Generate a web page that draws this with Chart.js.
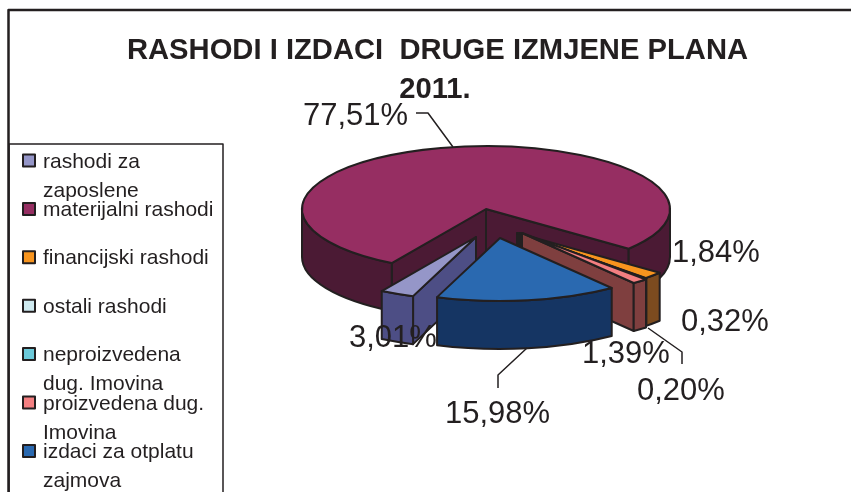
<!DOCTYPE html>
<html>
<head>
<meta charset="utf-8">
<title>Rashodi i izdaci</title>
<script src="https://cdn.jsdelivr.net/npm/chart.js@4"></script>
<style>
    html, body { margin: 0; padding: 0; background: #fff; }
    canvas { display: block; }
</style>
</head>
<body>
<canvas id="pieChart" width="851" height="492"></canvas>
<script>
// Chart data
const categories = [
    'rashodi za\nzaposlene',
    'materijalni rashodi',
    'financijski rashodi',
    'ostali rashodi',
    'neproizvedena\ndug. Imovina',
    'proizvedena dug.\nImovina',
    'izdaci za otplatu\nzajmova'
];
const shares = [3.01, 77.51, 1.84, 0.32, 0.20, 1.39, 15.98];
const titleLines = ['RASHODI I IZDACI  DRUGE IZMJENE PLANA', '2011.'];

// Colours
const INK = '#231f20';
const topColors = ['#9596c8', '#962e62', '#f7941e', '#cfeaf0', '#6bc9d9', '#f37f81', '#2a69b0'];
const wallColors = ['#4d4e85', '#4b1a34', '#7c4b1f', '#687579', '#35646c', '#7f3f3f', '#153563'];

// 3D look of the pie
const SQUASH = 0.342;
const DEPTH = 48;
const explode = [[-10, 28], [0, 0], [31, 24], [32, 24], [34, 24], [36, 24], [14, 29]];
const paintOrder = [1, 2, 3, 4, 5, 0, 6];

// Where each percentage goes: text left, baseline, optional leader line
const labelSpots = [
    { x: 349, y: 347 },
    { x: 303, y: 125, leader: [[416, 113], [428, 113], [453, 147]] },
    { x: 672, y: 262 },
    { x: 681, y: 331 },
    { x: 637, y: 400, leader: [[648, 328], [682, 352], [682, 364]] },
    { x: 582, y: 363 },
    { x: 445, y: 423, leader: [[527, 348], [498, 375], [498, 388]] }
];

function percentText(value) {
    return value.toFixed(2).replace('.', ',') + '%';
}

function drawLabel(ctx, i) {
    const spot = labelSpots[i];
    ctx.fillStyle = INK;
    ctx.font = '31px "Liberation Sans"';
    ctx.textAlign = 'left';
    ctx.textBaseline = 'alphabetic';
    ctx.fillText(percentText(shares[i]), spot.x, spot.y);
    if (spot.leader) {
        ctx.beginPath();
        spot.leader.forEach(function(p, n) {
            if (n === 0) ctx.moveTo(p[0], p[1]);
            else ctx.lineTo(p[0], p[1]);
        });
        ctx.lineWidth = 1.5;
        ctx.strokeStyle = INK;
        ctx.stroke();
    }
}

function paint(ctx, fill) {
    ctx.fillStyle = fill;
    ctx.fill();
    ctx.stroke();
}

// Flat side of a slice, from the apex out to the rim at one angle
function drawFace(ctx, x, y, r, angle, fill) {
    const ex = x + r * Math.cos(angle);
    const ey = y + r * SQUASH * Math.sin(angle);
    ctx.beginPath();
    ctx.moveTo(x, y);
    ctx.lineTo(ex, ey);
    ctx.lineTo(ex, ey + DEPTH);
    ctx.lineTo(x, y + DEPTH);
    ctx.closePath();
    paint(ctx, fill);
}

// Curved rim, only the parts that face the viewer
function drawRim(ctx, x, y, r, start, end, fill) {
    for (let k = 0; k < 2; k++) {
        const lo = Math.max(start, k * 2 * Math.PI);
        const hi = Math.min(end, k * 2 * Math.PI + Math.PI);
        if (hi <= lo) continue;
        ctx.beginPath();
        ctx.ellipse(x, y, r, r * SQUASH, 0, lo, hi);
        ctx.ellipse(x, y + DEPTH, r, r * SQUASH, 0, hi, lo, true);
        ctx.closePath();
        paint(ctx, fill);
    }
}

function drawSlice(ctx, arc, i) {
    const props = arc.getProps(['x', 'y', 'startAngle', 'endAngle', 'outerRadius'], true);
    const x = props.x + explode[i][0];
    const y = props.y + explode[i][1];
    const r = props.outerRadius;
    const start = props.startAngle;
    const end = props.endAngle;

    if (Math.cos(end) > 0) drawFace(ctx, x, y, r, end, wallColors[i]);
    if (Math.cos(start) < 0) drawFace(ctx, x, y, r, start, wallColors[i]);
    drawRim(ctx, x, y, r, start, end, wallColors[i]);

    ctx.beginPath();
    ctx.moveTo(x, y);
    ctx.ellipse(x, y, r, r * SQUASH, 0, start, end);
    ctx.closePath();
    paint(ctx, topColors[i]);
}

function drawFrame(ctx) {
    ctx.strokeStyle = INK;
    ctx.lineWidth = 2.5;
    ctx.beginPath();
    ctx.moveTo(8.5, 492);
    ctx.lineTo(8.5, 10);
    ctx.lineTo(851, 10);
    ctx.stroke();
}

function drawTitle(ctx) {
    ctx.fillStyle = INK;
    ctx.font = 'bold 29.2px "Liberation Sans"';
    ctx.textAlign = 'center';
    ctx.textBaseline = 'alphabetic';
    ctx.fillText(titleLines[0], 437.5, 59);
    ctx.fillText(titleLines[1], 435, 98);
}

function drawLegend(ctx) {
    ctx.strokeStyle = INK;
    ctx.lineWidth = 1.5;
    ctx.strokeRect(9, 144, 214, 360);

    ctx.font = '21px "Liberation Sans"';
    ctx.textAlign = 'left';
    ctx.textBaseline = 'alphabetic';
    categories.forEach(function(name, i) {
        const rowY = 160.5 + i * 48.4;
        ctx.fillStyle = topColors[i];
        ctx.lineWidth = 2;
        ctx.fillRect(23, rowY - 6, 12, 12);
        ctx.strokeRect(23, rowY - 6, 12, 12);
        ctx.fillStyle = INK;
        name.split('\n').forEach(function(line, n) {
            ctx.fillText(line, 43, rowY + 7 + n * 29);
        });
    });
}

// Draws the pie tilted, using the angles and radius the library worked out
const tiltedPie = {
    id: 'tiltedPie',
    beforeDatasetsDraw(chart) {
        const ctx = chart.ctx;
        const arcs = chart.getDatasetMeta(0).data;
        ctx.save();
        ctx.lineJoin = 'round';
        drawFrame(ctx);
        drawLegend(ctx);
        paintOrder.forEach(function(i) {
            ctx.strokeStyle = INK;
            ctx.lineWidth = 2;
            drawSlice(ctx, arcs[i], i);
            if (i === 0) drawLabel(ctx, i);
        });
        shares.forEach(function(value, i) {
            if (i !== 0) drawLabel(ctx, i);
        });
        drawTitle(ctx);
        ctx.restore();
        return false;
    }
};

new Chart(document.getElementById('pieChart').getContext('2d'), {
    type: 'pie',
    data: {
        labels: categories,
        datasets: [{
            data: shares,
            backgroundColor: topColors,
            borderWidth: 0
        }]
    },
    options: {
        responsive: false,
        animation: false,
        rotation: 200,
        layout: {
            padding: { left: 302, right: 181, top: 25, bottom: 99 }
        },
        plugins: {
            legend: { display: false },
            tooltip: { enabled: false }
        }
    },
    plugins: [tiltedPie]
});
</script>
</body>
</html>
